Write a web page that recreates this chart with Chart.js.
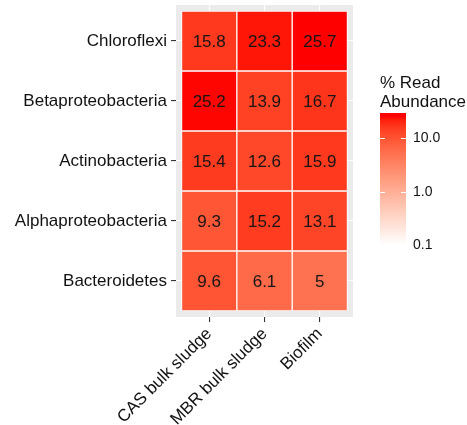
<!DOCTYPE html>
<html>
<head>
  <title>Read abundance heatmap</title>
  <script src="https://cdn.jsdelivr.net/npm/chart.js"></script>
  <style>
    body { margin: 0; background: #fff; }
    #wrap { width: 467px; height: 425px; }
  </style>
</head>
<body>
<div id="wrap"><canvas id="chart"></canvas></div>
<script>
  var samples = ['CAS bulk sludge', 'MBR bulk sludge', 'Biofilm'];
  // rows, bottom to top
  var phyla = ['Bacteroidetes', 'Alphaproteobacteria', 'Actinobacteria', 'Betaproteobacteria', 'Chloroflexi'];
  var casSludge = [9.6, 9.3, 15.4, 25.2, 15.8];
  var mbrSludge = [6.1, 15.2, 12.6, 13.9, 23.3];
  var biofilm = [5, 13.1, 15.9, 16.7, 25.7];
  var legendBreaks = [0.1, 1, 10];
  var legendTitle = ['% Read', 'Abundance'];

  var columns = [casSludge, mbrSludge, biofilm];
  var allValues = [].concat(casSludge, mbrSludge, biofilm);
  var scaleLo = Math.log10(legendBreaks[0]);
  var scaleHi = Math.log10(Math.max.apply(null, allValues));

  // white -> red gradient interpolated in Lab space
  var WX = 0.95047, WY = 1, WZ = 1.08883;
  function lin(c) { c /= 255; return c <= 0.04045 ? c / 12.92 : Math.pow((c + 0.055) / 1.055, 2.4); }
  function gam(c) {
    c = c <= 0.0031308 ? 12.92 * c : 1.055 * Math.pow(c, 1 / 2.4) - 0.055;
    return Math.round(Math.max(0, Math.min(1, c)) * 255);
  }
  function rgb2lab(rgb) {
    var r = lin(rgb[0]), g = lin(rgb[1]), b = lin(rgb[2]);
    var x = (0.4124 * r + 0.3576 * g + 0.1805 * b) / WX;
    var y = (0.2126 * r + 0.7152 * g + 0.0722 * b) / WY;
    var z = (0.0193 * r + 0.1192 * g + 0.9505 * b) / WZ;
    var f = function (t) { return t > 0.008856 ? Math.cbrt(t) : 7.787 * t + 16 / 116; };
    var fx = f(x), fy = f(y), fz = f(z);
    return [116 * fy - 16, 500 * (fx - fy), 200 * (fy - fz)];
  }
  function lab2rgb(lab) {
    var fy = (lab[0] + 16) / 116, fx = fy + lab[1] / 500, fz = fy - lab[2] / 200;
    var inv = function (t) { return t > 0.206893 ? t * t * t : (t - 16 / 116) / 7.787; };
    var x = inv(fx) * WX, y = inv(fy) * WY, z = inv(fz) * WZ;
    var r = 3.2406 * x - 1.5372 * y - 0.4986 * z;
    var g = -0.9689 * x + 1.8758 * y + 0.0415 * z;
    var b = 0.0557 * x - 0.2040 * y + 1.0570 * z;
    return 'rgb(' + gam(r) + ',' + gam(g) + ',' + gam(b) + ')';
  }
  var lowLab = rgb2lab([255, 255, 255]);
  var highLab = rgb2lab([255, 0, 0]);

  function fillFor(v) {
    var t = (Math.log10(v) - scaleLo) / (scaleHi - scaleLo);
    t = Math.max(0, Math.min(1, t));
    return lab2rgb([0, 1, 2].map(function (k) { return lowLab[k] + (highLab[k] - lowLab[k]) * t; }));
  }

  var datasets = columns.map(function (vals, c) {
    return {
      label: samples[c],
      data: vals.map(function (v, r) { return { x: c + 0.5, y: [r, r + 1], v: v }; }),
      backgroundColor: vals.map(fillFor),
      borderColor: '#fff',
      borderWidth: 1,
      borderSkipped: false,
      grouped: false,
      barPercentage: 1,
      categoryPercentage: 1
    };
  });

  var font = { family: 'Arial', size: 17 };

  // grey panel behind the tiles
  var panelBg = {
    id: 'panelBg',
    beforeDraw: function (chart) {
      var a = chart.chartArea, ctx = chart.ctx;
      ctx.save();
      ctx.fillStyle = '#EBEBEB';
      ctx.fillRect(a.left, a.top, a.right - a.left, a.bottom - a.top);
      ctx.restore();
    }
  };

  // value printed in the middle of each tile
  var tileLabels = {
    id: 'tileLabels',
    afterDatasetsDraw: function (chart) {
      var ctx = chart.ctx;
      ctx.save();
      ctx.font = '17px Arial';
      ctx.fillStyle = '#151515';
      ctx.textAlign = 'center';
      ctx.textBaseline = 'middle';
      chart.data.datasets.forEach(function (ds, i) {
        chart.getDatasetMeta(i).data.forEach(function (bar, j) {
          ctx.fillText(String(ds.data[j].v), bar.x, (bar.y + bar.base) / 2 + 1);
        });
      });
      ctx.restore();
    }
  };

  // colour bar legend on the right
  var colourBar = {
    id: 'colourBar',
    afterDraw: function (chart) {
      var ctx = chart.ctx;
      var x0 = 380, w = 26, top = 113, bottom = 248.5;
      var pad = (bottom - top) / 40;
      var yFor = function (v) {
        var t = (Math.log10(v) - scaleLo) / (scaleHi - scaleLo);
        return (bottom - pad) - t * (bottom - top - 2 * pad);
      };
      ctx.save();
      ctx.fillStyle = '#111';
      ctx.font = '17px Arial';
      ctx.textAlign = 'left';
      ctx.textBaseline = 'alphabetic';
      ctx.fillText(legendTitle[0], x0, 88);
      ctx.fillText(legendTitle[1], x0, 107);

      for (var y = top; y < bottom; y++) {
        var t = (bottom - pad - (y + 0.5)) / (bottom - top - 2 * pad);
        t = Math.max(0, Math.min(1, t));
        ctx.fillStyle = fillFor(Math.pow(10, scaleLo + t * (scaleHi - scaleLo)));
        ctx.fillRect(x0, y, w, 1);
      }

      ctx.strokeStyle = '#fff';
      ctx.lineWidth = 1;
      ctx.font = '14px Arial';
      ctx.textBaseline = 'middle';
      legendBreaks.forEach(function (b) {
        var y = Math.round(yFor(b)) + 0.5;
        ctx.beginPath();
        ctx.moveTo(x0, y); ctx.lineTo(x0 + 5, y);
        ctx.moveTo(x0 + w - 5, y); ctx.lineTo(x0 + w, y);
        ctx.stroke();
        ctx.fillStyle = '#111';
        ctx.fillText(b.toFixed(1), x0 + w + 7, yFor(b));
      });
      ctx.restore();
    }
  };

  new Chart(document.getElementById('chart').getContext('2d'), {
    type: 'bar',
    data: { datasets: datasets },
    options: {
      responsive: true,
      maintainAspectRatio: false,
      animation: false,
      layout: { padding: { top: 5, right: 114, left: 0, bottom: 0 } },
      plugins: { legend: { display: false }, tooltip: { enabled: false } },
      scales: {
        x: {
          type: 'linear',
          min: -0.1,
          max: 3.1,
          offset: false,
          afterBuildTicks: function (s) { s.ticks = samples.map(function (_, i) { return { value: i + 0.5 }; }); },
          afterFit: function (s) { s.height = 108; s.paddingLeft = 0; s.paddingRight = 0; },
          ticks: {
            autoSkip: false, minRotation: 45, maxRotation: 45, padding: 2,
            color: '#111', font: font,
            callback: function (v, i) { return samples[i]; }
          },
          grid: { offset: false, color: '#fff', lineWidth: 1.1, tickColor: '#333', tickLength: 5 },
          border: { display: false }
        },
        y: {
          type: 'linear',
          min: -0.1,
          max: 5.1,
          afterBuildTicks: function (s) { s.ticks = phyla.map(function (_, i) { return { value: i + 0.5 }; }); },
          afterFit: function (s) { s.width = 176; s.paddingTop = 0; s.paddingBottom = 0; },
          ticks: {
            padding: 4, color: '#111', font: font,
            callback: function (v, i) { return phyla[i]; }
          },
          grid: { color: '#fff', lineWidth: 1.1, tickColor: '#333', tickLength: 5 },
          border: { display: false }
        }
      }
    },
    plugins: [panelBg, tileLabels, colourBar]
  });
</script>
</body>
</html>
